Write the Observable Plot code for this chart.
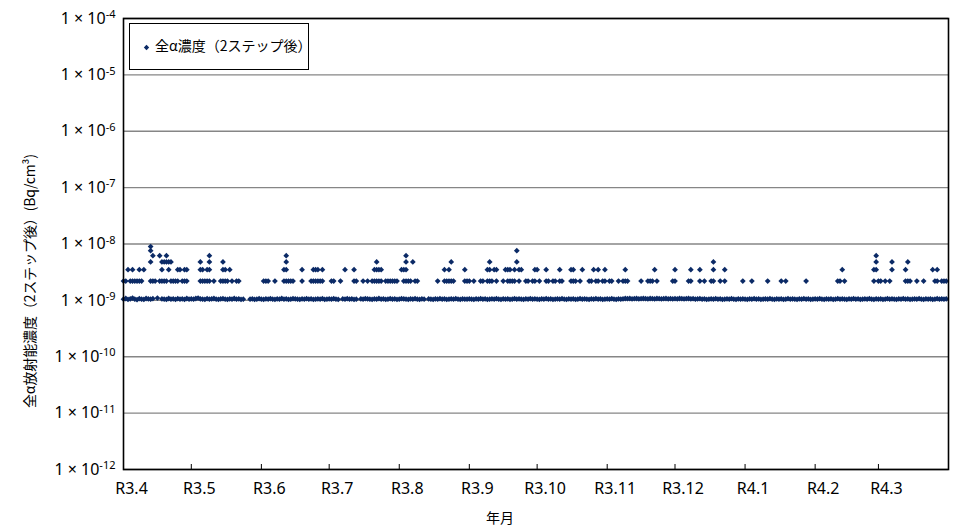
<!DOCTYPE html>
<html><head><meta charset="utf-8">
<script src="https://cdn.jsdelivr.net/npm/d3@7"></script>
<script src="https://cdn.jsdelivr.net/npm/@observablehq/plot@0.6"></script>
<style>
body{margin:0;background:#fff;}
#wrap{position:relative;width:960px;height:529px;}
#legend{position:absolute;left:129px;top:23px;width:180px;height:47px;border:1px solid #000;background:#fff;box-sizing:border-box;font-family:"Noto Sans CJK JP",sans-serif;font-size:14px;color:#000;}
#legend svg{position:absolute;left:13px;top:20px;}
#legend span{position:absolute;left:25px;top:11px;white-space:nowrap;}
</style></head><body><div id="wrap"><div id="legend"><svg width="7" height="7"><path d="M3.5,0.8L6.2,3.5L3.5,6.2L0.8,3.5Z" fill="#0b2a66"/></svg><span id="legendText"></span></div></div>
<script>
const monthLabels = ["R3.4","R3.5","R3.6","R3.7","R3.8","R3.9","R3.10","R3.11","R3.12","R4.1","R4.2","R4.3"];
const monthStarts = ["2021-04-01","2021-05-01","2021-06-01","2021-07-01","2021-08-01","2021-09-01","2021-10-01","2021-11-01","2021-12-01","2022-01-01","2022-02-01","2022-03-01"];
const periodEnd = "2022-04-01";
const yTicks = [1e-12,1e-11,1e-10,1e-9,1e-8,1e-7,1e-6,1e-5,1e-4];
const yExponents = ["-12","-11","-10","-9","-8","-7","-6","-5","-4"];
const yTitle = "全α放射能濃度（2ステップ後）(Bq/cm³)";
const xTitle = "年月";
const legendLabel = "全α濃度（2ステップ後）";

// daily baseline (x 1e-9 Bq/cm3), one array per month, null = no point
const baseUnit = 1e-9;
const baseApr = [1.05,1.08,1.04,1.06,1.1,1.05,1.03,1.07,1.05,1.04,1.08,1.06,1.05,1.07,null,1.1,null,1.06,1.05,1.04,1.08,1.05,1.06,1.04,1.07,1.05,1.06,1.04,1.08,1.05];
const baseMay = [1.06,1.05,1.08,1.1,1.06,1.05,1.04,1.07,1.05,1.06,1.08,1.05,1.04,1.06,1.07,1.05,1.04,1.06,1.05,1.08,1.05,1.06,1.04,1.05,null,null,1.05,1.06,1.04,1.05,1.07];
const baseJun = [1.05,1.04,1.06,1.05,1.07,1.05,1.04,1.06,1.05,1.08,1.05,1.06,1.04,1.05,1.07,1.06,1.05,1.04,1.06,1.05,1.07,1.05,1.06,1.04,1.05,1.06,1.05,1.07,1.04,1.05];
const baseJul = [1.06,1.05,1.07,1.05,1.04,null,1.06,1.05,1.07,1.05,1.06,1.04,1.05,null,1.06,1.05,1.07,1.06,1.05,1.04,1.06,1.05,1.08,1.05,1.06,1.04,1.05,1.07,1.05,1.06,1.04];
const baseAug = [1.05,1.07,1.06,1.05,1.04,1.06,1.05,1.07,1.05,1.04,1.06,1.05,null,1.06,1.05,1.04,1.06,1.05,1.07,1.05,1.06,1.04,1.05,1.06,1.05,1.07,1.05,1.04,1.06,1.05,1.05];
const baseSep = [1.06,1.05,1.04,1.06,1.05,1.07,1.05,1.06,1.04,1.05,1.06,1.05,1.07,1.05,1.04,1.06,1.05,1.06,1.04,1.05,1.07,1.05,1.06,1.05,1.04,1.06,1.05,1.07,1.05,1.06];
const baseOct = [1.05,1.04,1.06,1.05,1.07,1.05,1.06,1.04,1.05,1.06,1.05,1.07,1.05,1.04,1.06,1.05,1.06,1.04,1.05,1.07,1.05,1.06,1.05,1.04,1.06,1.05,1.07,1.05,1.06,1.04,1.05];
const baseNov = [1.06,1.05,1.07,1.05,1.04,1.06,1.05,1.06,1.08,1.07,1.08,1.06,1.07,1.08,1.06,1.07,1.08,1.07,1.06,1.08,1.07,1.06,1.08,1.07,1.06,1.07,1.08,1.06,1.07,1.06];
const baseDec = [1.07,1.06,1.08,1.07,1.06,1.07,1.08,1.06,1.07,1.05,1.06,1.07,1.05,1.06,1.04,1.05,1.06,1.05,1.07,1.05,1.06,1.04,1.05,1.06,1.05,1.07,1.05,1.04,1.06,1.05,1.06];
const baseJan = [1.05,1.04,1.06,1.05,1.07,1.05,1.06,1.04,1.05,1.06,1.05,1.07,1.05,1.04,1.06,1.05,1.06,1.04,1.05,1.07,1.05,1.06,1.05,1.04,1.06,1.05,1.07,1.05,1.06,1.04,1.05];
const baseFeb = [1.06,1.05,1.07,1.05,1.04,1.06,1.05,1.06,1.04,1.05,1.07,1.05,1.06,1.05,1.04,1.06,1.05,1.07,1.05,1.06,1.04,1.05,1.06,1.05,1.07,1.05,1.04,1.06];
const baseMar = [1.05,1.06,1.04,1.05,1.07,1.05,1.06,1.05,1.04,1.06,1.05,1.07,1.05,1.06,1.04,1.05,1.06,1.05,1.07,1.05,1.04,1.06,1.05,1.06,1.04,1.05,1.07,1.05,1.06,1.05,1.06];
const baselineByMonth = [baseApr,baseMay,baseJun,baseJul,baseAug,baseSep,baseOct,baseNov,baseDec,baseJan,baseFeb,baseMar];

// elevated results, grouped by value level
const levelValues = [2.2e-9, 3.5e-9, 4.8e-9, 6.2e-9, 7.6e-9, 9.0e-9];
const level1Dates = ["2021-04-01","2021-04-02","2021-04-04","2021-04-05","2021-04-06","2021-04-07","2021-04-08","2021-04-09","2021-04-13","2021-04-14","2021-04-15","2021-04-17","2021-04-18","2021-04-19","2021-04-20","2021-04-22","2021-04-23","2021-04-24","2021-04-25","2021-04-27","2021-04-28","2021-04-29",
"2021-05-05","2021-05-06","2021-05-07","2021-05-08","2021-05-09","2021-05-11","2021-05-14","2021-05-15","2021-05-16","2021-05-17","2021-05-19","2021-05-21","2021-05-22",
"2021-06-02","2021-06-03","2021-06-04","2021-06-07","2021-06-11","2021-06-12","2021-06-13","2021-06-14","2021-06-15","2021-06-19","2021-06-23","2021-06-24","2021-06-25","2021-06-26","2021-06-27","2021-06-28",
"2021-07-02","2021-07-03","2021-07-06","2021-07-12","2021-07-13","2021-07-16","2021-07-18","2021-07-20","2021-07-21","2021-07-22","2021-07-23","2021-07-24","2021-07-26","2021-07-27","2021-07-28","2021-07-29","2021-07-30","2021-07-31",
"2021-08-03","2021-08-04","2021-08-05","2021-08-06","2021-08-08","2021-08-09","2021-08-18","2021-08-21","2021-08-22","2021-08-23","2021-08-24","2021-08-25","2021-08-30","2021-08-31",
"2021-09-01","2021-09-03","2021-09-06","2021-09-07","2021-09-09","2021-09-10","2021-09-11","2021-09-13","2021-09-16","2021-09-18","2021-09-19","2021-09-20","2021-09-21","2021-09-23","2021-09-26","2021-09-27","2021-09-29","2021-09-30",
"2021-10-02","2021-10-05","2021-10-06","2021-10-08","2021-10-09","2021-10-11","2021-10-12","2021-10-16","2021-10-17","2021-10-18","2021-10-20","2021-10-24","2021-10-25","2021-10-27","2021-10-28","2021-10-30","2021-10-31",
"2021-11-02","2021-11-03","2021-11-06","2021-11-08","2021-11-09","2021-11-10","2021-11-16","2021-11-19","2021-11-20","2021-11-21","2021-11-23","2021-11-30",
"2021-12-01","2021-12-07","2021-12-08","2021-12-12","2021-12-14","2021-12-17","2021-12-18","2021-12-21","2021-12-23","2021-12-31",
"2022-01-04","2022-01-11","2022-01-17","2022-01-19","2022-01-28",
"2022-02-11","2022-02-12","2022-02-14","2022-02-27",
"2022-03-01","2022-03-02","2022-03-04","2022-03-06","2022-03-13","2022-03-14","2022-03-15","2022-03-18","2022-03-21","2022-03-26","2022-03-27","2022-03-29","2022-03-30","2022-03-31"];
const level2Dates = ["2021-04-03","2021-04-05","2021-04-08","2021-04-10","2021-04-18","2021-04-21","2021-04-25","2021-04-26","2021-04-28","2021-04-29",
"2021-05-05","2021-05-06","2021-05-08","2021-05-09","2021-05-15","2021-05-16","2021-05-18",
"2021-06-11","2021-06-12","2021-06-19","2021-06-24","2021-06-25","2021-06-26","2021-06-28",
"2021-07-08","2021-07-12","2021-07-21","2021-07-22","2021-07-23","2021-07-24",
"2021-08-02","2021-08-03","2021-08-04","2021-08-21","2021-08-23","2021-08-30",
"2021-09-09","2021-09-10","2021-09-12","2021-09-13","2021-09-17","2021-09-18","2021-09-19","2021-09-21","2021-09-23","2021-09-24","2021-09-30",
"2021-10-01","2021-10-05","2021-10-11","2021-10-16","2021-10-17","2021-10-21","2021-10-26","2021-10-28","2021-10-31",
"2021-11-09","2021-11-22","2021-12-01","2021-12-08","2021-12-12","2021-12-18","2021-12-23",
"2022-02-13","2022-02-27","2022-02-28","2022-03-07","2022-03-13","2022-03-25","2022-03-27"];
const level3Dates = ["2021-04-13","2021-04-18","2021-04-19","2021-04-20","2021-04-21","2021-04-22","2021-05-05","2021-05-09","2021-05-15","2021-06-12","2021-07-22","2021-08-04","2021-08-07","2021-08-24","2021-09-10","2021-09-22","2021-12-18","2022-02-28","2022-03-07","2022-03-14"];
const level4Dates = ["2021-04-14","2021-04-17","2021-04-20","2021-05-09","2021-06-12","2021-08-04","2022-02-28"];
const level5Dates = ["2021-04-13","2021-09-22"];
const level6Dates = ["2021-04-13"];
const levelDates = [level1Dates, level2Dates, level3Dates, level4Dates, level5Dates, level6Dates];

const color = "#0b2a66";
const parseDate = s => new Date(s + "T00:00:00Z");

const baseline = [];
baselineByMonth.forEach((vals, m) => {
  const start = parseDate(monthStarts[m]);
  vals.forEach((v, i) => {
    if (v != null) baseline.push({date: new Date(start.getTime() + i * 864e5), value: v * baseUnit});
  });
});
const elevated = [];
levelDates.forEach((dates, k) => dates.forEach(s => elevated.push({date: parseDate(s), value: levelValues[k]})));
const allPoints = baseline.concat(elevated);

const xTickDates = monthStarts.map(parseDate);
const labelMap = new Map(xTickDates.map((d, i) => [+d, monthLabels[i]]));
const expMap = new Map(yTicks.map((t, i) => [t, yExponents[i]]));

const chart = Plot.plot({
  width: 960, height: 529,
  marginLeft: 123, marginRight: 12, marginTop: 18, marginBottom: 60,
  style: {fontFamily: "'Noto Sans', sans-serif", fontSize: "16px", background: "#fff", color: "#000"},
  x: {type: "utc", domain: [parseDate(monthStarts[0]), parseDate(periodEnd)]},
  y: {type: "log", domain: [yTicks[0], yTicks[yTicks.length - 1]]},
  marks: [
    Plot.ruleY(yTicks, {stroke: "#868686", strokeWidth: 1.3}),
    Plot.dot(allPoints, {x: "date", y: "value", symbol: "diamond2", r: 2.6, fill: color, stroke: "none"}),
    Plot.frame({stroke: "#000", strokeWidth: 1.6}),
    Plot.axisX(xTickDates, {tickSize: -5, tickFormat: () => "", stroke: "#000", label: null}),
    Plot.axisX(xTickDates, {tickSize: 0, tickPadding: 13, dx: 8, tickFormat: d => labelMap.get(+d), label: null}),
    Plot.axisY(yTicks, {tickSize: 0, tickPadding: 8, tickFormat: d => "1 × 10^" + expMap.get(d), label: null}),
    Plot.text([yTitle], {frameAnchor: "left", textAnchor: "middle", lineAnchor: "middle", rotate: -90, dx: -93, dy: 37, fontSize: 14, fontFamily: "'Noto Sans CJK JP', sans-serif"}),
    Plot.text([xTitle], {frameAnchor: "bottom", textAnchor: "middle", lineAnchor: "middle", dx: -36, dy: 49, fontSize: 14, fontFamily: "'Noto Sans CJK JP', sans-serif"})
  ]
});
document.getElementById("wrap").insertBefore(chart, document.getElementById("legend"));
chart.style.display = "block";
document.getElementById("legendText").textContent = legendLabel;

// superscript exponents on y tick labels
d3.select(chart).selectAll('g[aria-label="y-axis tick label"] text').each(function() {
  const t = d3.select(this);
  const parts = this.textContent.split("^");
  if (parts.length !== 2) return;
  t.text(parts[0]);
  t.append("tspan").attr("dy", "-0.5em").attr("font-size", "11px").text(parts[1]);
});
// stretch the y title to the reference length
d3.select(chart).selectAll("text").filter(function() { return this.textContent === yTitle; })
  .attr("textLength", 254).attr("lengthAdjust", "spacing");
</script></body></html>
